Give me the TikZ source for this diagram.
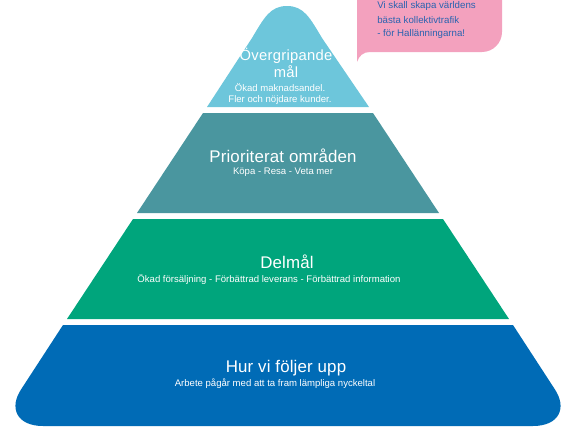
\documentclass[tikz,border=0pt]{standalone}
\usepackage{fontspec}
\setmainfont{Liberation Sans}
\newfontfamily\titlefont[LetterSpace=1]{Liberation Sans}
\newfontfamily\goalfont[LetterSpace=2]{Liberation Sans}
\usepackage{tikz}
\usetikzlibrary{positioning}
\usepackage{xcolor}
\definecolor{tierone}{HTML}{6DC6DB}
\definecolor{tiertwo}{HTML}{4A969F}
\definecolor{tierthree}{HTML}{00A57C}
\definecolor{tierfour}{HTML}{006BB6}
\definecolor{visionpink}{HTML}{F3A1BE}
\definecolor{visionblue}{HTML}{2A63B0}

\begin{document}
\begin{tikzpicture}[x=0.025cm,y=-0.025cm,
  tiertitle/.style={text=white,inner sep=0pt,align=center,font=\titlefont\fontsize{12}{14}\selectfont},
  tiersub/.style={text=white,inner sep=0pt,align=center,font=\fontsize{6.8}{7.8}\selectfont},
  visiontext/.style={text=visionblue,inner sep=0pt,anchor=west,font=\fontsize{6.9}{8}\selectfont}]
\useasboundingbox (0,0) rectangle (566,428);
\clip (0,0) rectangle (566,428);

% pyramid tiers
\fill[tierone] (207,107) -- (252,38) .. controls (264,18) and (270,6) .. (287,6)
  .. controls (304,6) and (310,18) .. (322,38) -- (369,107) -- cycle;
\fill[tiertwo] (203,113) -- (373,113) -- (439,213) -- (137,213) -- cycle;
\fill[tierthree] (133,219) -- (443,219) -- (509,319) -- (67,319) -- cycle;
\fill[tierfour] (63,325) -- (513,325) -- (554,388) .. controls (568,408) and (559,426) .. (533,426)
  -- (43,426) .. controls (17,426) and (8,408) .. (22,388) -- cycle;

% vision callout
\fill[visionpink] (357,-5) -- (357,62) .. controls (359,56) and (363,52) .. (370,52)
  -- (482,52) .. controls (493,52) and (502,43) .. (502,32) -- (502,-5) -- cycle;
\node[visiontext] (vis1) at (377,6) {Vi skall skapa världens};
\node[visiontext] (vis2) at (377,20) {bästa kollektivtrafik};
\node[visiontext] (vis3) at (377,34) {- för Hallänningarna!};

% texts
\node[tiertitle, font=\goalfont\fontsize{10.5}{12}\selectfont] (goal) at (286,63) {Övergripande\\mål};
\node[tiersub] (goalsub) at (280,94) {Ökad maknadsandel.\\Fler och nöjdare kunder.};

\node[tiertitle] (prio) at (283,156) {Prioriterat områden};
\node[tiersub] (priosub) at (283,172) {Köpa - Resa - Veta mer};

\node[tiertitle] (delmal) at (287,262) {Delmål};
\node[tiersub] (delmalsub) at (269,279) {Ökad försäljning - Förbättrad leverans - Förbättrad information};

\node[tiertitle] (follow) at (286,368) {Hur vi följer upp};
\node[tiersub] (followsub) at (275,384) {Arbete pågår med att ta fram lämpliga nyckeltal};
\end{tikzpicture}
\end{document}
